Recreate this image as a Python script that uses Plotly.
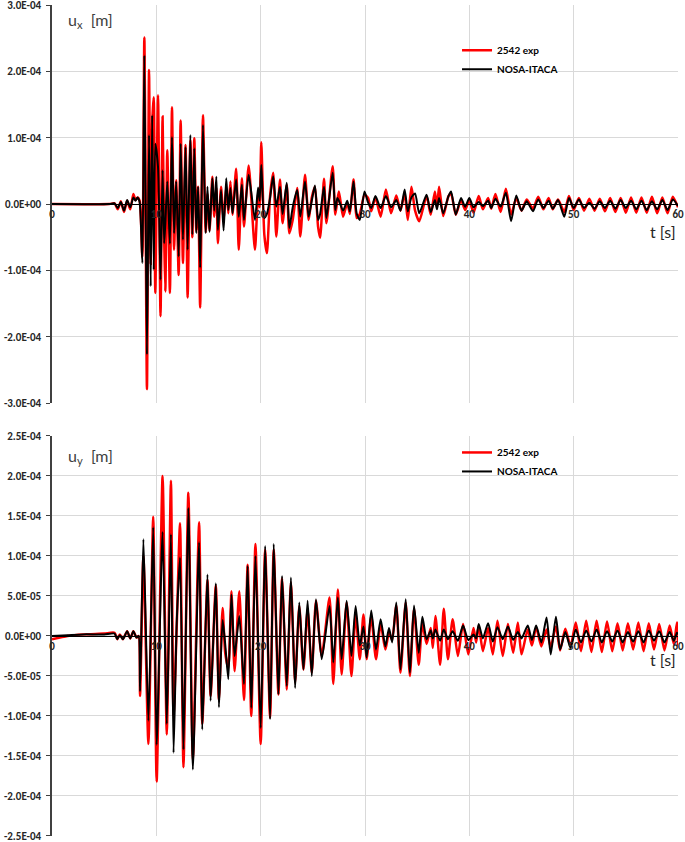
import plotly.graph_objects as go

# displacement values below in units of 1e-5 m
SCALE = 1e-5

# ---------------- u_x ----------------
t_x = [0.0, 5.5, 6.0, 6.3, 6.6, 6.9, 7.2, 7.5, 7.8, 8.0,
       8.2, 8.4, 8.66, 8.85, 9.1, 9.3, 9.46, 9.6, 9.75, 9.9,
       10.16, 10.4, 10.6, 10.75, 10.86, 11.05, 11.3, 11.5, 11.7, 11.9,
       12.14, 12.33, 12.55, 12.8, 13.0, 13.26, 13.45, 13.64, 13.83, 14.0,
       14.2, 14.47, 14.73, 14.9, 15.1, 15.37, 15.55, 15.75, 15.9, 16.2,
       16.45, 16.7, 16.9, 17.1, 17.3, 17.65, 17.9, 18.2, 18.4, 18.85,
       19.45, 19.75, 19.9, 20.06, 20.35, 20.6, 20.9, 21.2, 21.5, 21.85,
       22.1, 22.5, 22.75, 23.07, 23.5, 23.8, 24.25, 24.6, 24.9, 25.2,
       25.5, 25.7, 26.07, 26.3, 26.9, 27.15, 27.35, 27.5, 27.9, 28.3,
       28.55, 28.9, 29.2, 29.5, 29.95, 30.3, 30.6, 31.0, 31.5, 32.0,
       32.5, 33.0, 33.4, 33.8, 34.1, 34.45, 34.8, 35.2, 35.9, 36.3,
       36.7, 36.9, 37.1, 37.5, 38.0, 38.25, 38.7, 39.2, 39.6, 40.0,
       40.4, 40.9, 41.3, 41.8, 42.1, 42.5, 43.0, 43.5, 44.0, 44.5,
       45.0, 45.5, 46.1, 46.6, 47.1, 47.6, 48.0, 48.5, 49.1, 49.55,
       50.0, 50.5, 51.0, 51.5, 52.0, 52.5, 53.0, 53.5, 54.0, 54.5,
       55.0, 55.5, 56.0, 56.5, 57.0, 57.5, 58.0, 58.5, 59.0, 59.5,
       60.0]
ux_exp = [0, 0, 0.1, -0.8, 0.4, -1.2, 0.5, -0.8, 1.5, 0.6,
          1.0, 0.5, -8.0, 25.1, -27.9, 20.2, -9.0, 12.0, 16.1, -13.4,
          16.4, -16.9, 13.2, -5.0, -13.2, 8.1, -13.4, 14.6, -6.9, 3.6,
          -10.7, 12.6, -8.9, 8.9, -14.1, 9.6, -5.0, 9.9, -4.0, 2.6,
          -15.6, 13.4, -4.2, 1.5, -4.0, 4.1, -1.9, 2.5, -5.9, 2.6,
          -2.5, 2.6, -1.4, 3.4, -1.6, 5.3, -6.9, 3.9, -3.4, 5.8,
          -6.9, 1.5, -0.5, 9.3, -4.6, -7.4, 1.2, 4.7, -4.9, 3.7,
          -2.9, 2.9, -4.4, -2.4, 2.4, -4.9, 4.4, -2.4, 1.0, 2.6,
          -3.4, -5.1, 3.8, -2.9, 5.7, -1.6, 0.5, 1.9, -1.9, 0.2,
          -1.5, 3.7, -2.1, -1.5, 1.4, 0.9, -1.1, 1.0, -1.9, 2.2,
          -1.4, 1.3, -1.0, 1.6, -2.4, 2.6, -1.0, -2.6, 1.2, -1.6,
          1.9, -0.5, 2.6, -1.8, 1.2, 1.6, -1.6, 0.6, -0.9, 0.6,
          -1.3, 1.2, -0.8, 0.9, -0.7, 1.5, -1.2, 2.3, -1.6, 0.9,
          -1.0, 0.7, -0.7, 1.1, -0.8, 0.9, -0.8, 0.7, -1.2, 1.2,
          -0.9, 0.9, -1.0, 0.8, -1.0, 0.8, -1.1, 0.9, -1.2, 0.9,
          -1.3, 1.0, -1.3, 1.0, -1.3, 1.1, -1.4, 1.0, -1.4, 1.1,
          -0.5]
ux_nosa = [0, 0, 0.1, -0.6, 0.3, -1.0, 0.6, -0.5, 1.0, 0.5,
           1.0, 0.3, -8.9, 22.4, -22.7, 10.4, -12.4, 13.4, -9.9, 9.1,
           5.6, -11.4, 5.1, -5.9, -3.0, 3.4, -6.0, 10.1, -4.4, 3.4,
           -7.9, 9.1, -5.4, 8.6, -6.9, 10.4, -4.6, 8.4, -4.4, 2.6,
           -9.6, 11.9, -4.4, 2.6, -4.2, 3.9, -1.0, 4.1, -3.9, 2.1,
           -4.0, 3.9, -0.9, 2.4, -1.4, 3.7, -1.9, 2.9, -2.4, 4.4,
           -2.4, 2.5, 0.5, 5.9, -2.1, -1.5, 0.9, 4.2, -0.4, 2.6,
           -1.5, 3.2, -3.6, -0.5, 2.1, -1.9, 3.4, -1.9, 0.5, 2.8,
           -2.4, -1.5, 2.6, -2.1, 4.7, -0.9, 0.9, 0.5, -1.0, 0.5,
           -1.1, 3.4, -1.4, -2.4, 1.9, 0.2, -0.6, 1.2, -0.6, 1.2,
           -0.5, 0.6, -1.0, 2.2, -1.1, 1.0, 1.6, -1.4, 1.4, -1.2,
           0.6, -0.8, 0.9, -1.4, 1.2, 1.9, -1.6, 0.9, -0.4, 0.9,
           -0.5, 0.3, -0.3, 0.5, -0.6, 0.8, -0.4, 1.7, -2.6, 1.3,
           -1.0, 0.4, -1.1, 0.7, -0.6, 0.5, -0.7, 0.6, -1.9, 0.9,
           -0.6, 0.7, -0.6, 0.2, -0.7, 0.4, -0.6, 0.5, -0.7, 0.6,
           -0.6, 0.5, -0.8, 0.5, -0.9, 0.4, -0.8, 0.6, -0.9, 0.7,
           -0.3]

# ---------------- u_y ----------------
t_y = [0.0, 1.5, 3.0, 5.0, 6.0, 6.25, 6.5, 6.8, 7.2, 7.5,
       7.8, 8.1, 8.3, 8.44, 8.76, 9.24, 9.7, 10.03, 10.6, 11.0,
       11.4, 11.65, 11.95, 12.27, 12.6, 13.07, 13.5, 14.1, 14.4, 14.9,
       15.2, 15.7, 16.0, 16.35, 16.6, 16.9, 17.2, 17.5, 17.95, 18.4,
       18.75, 19.1, 19.5, 20.0, 20.43, 20.9, 21.25, 21.7, 22.05, 22.5,
       22.9, 23.3, 23.7, 24.1, 24.5, 24.9, 25.3, 25.85, 26.6, 26.96,
       27.4, 27.76, 28.24, 28.7, 29.1, 29.5, 29.85, 30.16, 30.6, 31.05,
       31.5, 31.95, 32.3, 32.6, 33.0, 33.4, 33.9, 34.3, 34.7, 35.15,
       35.5, 35.9, 36.3, 36.5, 36.75, 37.2, 37.55, 37.95, 38.4, 38.9,
       39.4, 39.9, 40.4, 40.65, 40.9, 41.3, 41.8, 42.25, 42.7, 43.2,
       43.7, 44.2, 44.65, 45.0, 45.6, 46.0, 46.4, 46.9, 47.4, 47.8,
       48.3, 48.7, 49.2, 49.7, 50.2, 50.7, 51.2, 51.7, 52.2, 52.7,
       53.2, 53.7, 54.2, 54.7, 55.2, 55.7, 56.2, 56.7, 57.2, 57.7,
       58.2, 58.7, 59.2, 59.6, 59.9, 60.0]
uy_exp = [-0.4, 0.0, 0.2, 0.3, 0.4, -0.4, 0.2, -0.4, 0.6, -0.3,
          0.6, -0.2, 0.0, -7.5, 10.0, -13.5, 14.9, -18.2, 20.0, -12.3,
          19.4, -10.0, 1.0, 14.1, -16.4, 17.9, -15.5, 14.2, -11.0, 7.0,
          -7.5, 6.3, -8.0, 3.5, -2.1, -4.0, 5.6, -4.4, 5.6, -8.0,
          8.9, -10.0, 11.5, -13.5, 10.8, -10.2, 10.8, -7.3, 7.2, -6.7,
          6.7, -5.8, 3.75, -4.2, 3.3, -4.6, 4.4, -2.5, 4.8, -6.0,
          5.8, -4.8, 4.2, -5.0, 2.7, -2.9, 2.7, -2.9, 2.5, -2.9,
          1.5, -1.7, 0.4, -0.5, 3.8, -4.6, 4.2, -5.0, 3.4, -3.6,
          1.5, -1.0, 1.0, -1.5, 2.5, -3.6, 3.4, -2.9, 2.1, -2.5,
          1.5, -2.3, 1.0, -0.8, 1.3, -1.9, 1.0, -2.3, 1.9, -2.5,
          1.5, -2.1, 1.7, -2.3, 0.8, -1.2, 1.1, -1.3, 0.8, -1.4,
          1.2, -1.8, 0.9, -1.3, 1.7, -1.9, 1.9, -2.0, 1.9, -2.0,
          1.8, -1.9, 1.6, -1.8, 1.6, -1.7, 1.7, -1.9, 1.6, -1.7,
          1.5, -1.8, 1.3, -1.0, 1.7, -1.2]
uy_nosa = [0.0, 0.1, 0.2, 0.2, 0.3, -0.4, 0.1, -0.4, 0.6, -0.3,
           0.6, -0.2, 0.0, -6.9, 12.1, -10.6, 13.6, -13.6, 13.0, -11.0,
           12.7, -14.6, 1.5, 9.8, -14.2, 16.0, -16.7, 11.7, -11.7, 7.7,
           -8.1, 6.6, -8.9, 2.0, -1.0, -5.4, 5.2, -2.5, 2.5, -6.0,
           8.75, -9.0, 10.0, -11.5, 11.25, -10.4, 11.5, -7.3, 7.5, -6.25,
           7.3, -6.5, 4.2, -4.2, 4.4, -5.0, 4.6, -2.9, 3.75, -3.3,
           4.8, -2.9, 4.4, -2.5, 3.75, -1.2, 1.2, -2.7, 3.2, -1.7,
           2.1, -1.3, 1.0, -0.8, 4.2, -4.2, 4.6, -4.6, 3.8, -2.1,
           2.4, -0.4, 0.7, -0.3, 0.8, -0.6, 0.8, -0.4, 0.6, -0.6,
           1.3, -0.5, 0.2, -0.3, 1.5, -0.3, 1.6, -0.7, 1.1, -0.4,
           1.2, -0.5, 0.5, -0.3, 1.3, -0.5, 1.3, -0.8, 2.3, -2.3,
           2.4, -1.7, 0.5, -1.5, 0.8, -0.8, 0.7, -0.7, 0.8, -0.8,
           0.6, -0.7, 0.7, -0.8, 0.5, -0.7, 0.6, -0.8, 0.7, -0.6,
           0.6, -0.8, 0.5, -0.6, 0.4, 0.2]

x_ticks = [0, 10, 20, 30, 40, 50, 60]
ux_ticks = [-3e-4, -2e-4, -1e-4, 0, 1e-4, 2e-4, 3e-4]
ux_labels = ["-3.0E-04", "-2.0E-04", "-1.0E-04", "0.0E+00", "1.0E-04", "2.0E-04", "3.0E-04"]
uy_ticks = [-2.5e-4, -2e-4, -1.5e-4, -1e-4, -5e-5, 0, 5e-5, 1e-4, 1.5e-4, 2e-4, 2.5e-4]
uy_labels = ["-2.5E-04", "-2.0E-04", "-1.5E-04", "-1.0E-04", "-5.0E-05", "0.0E+00",
             "5.0E-05", "1.0E-04", "1.5E-04", "2.0E-04", "2.5E-04"]

FONT = "Lato"
TICKFONT = "Carlito, Liberation Sans Narrow, Lato"
GRID = "#d9d9d9"
ytickfont = dict(family=TICKFONT, size=11, color="#262626", weight="bold")
xtickfont = dict(family=TICKFONT, size=11, color="#262626", weight="bold")


def scaled(vals):
    return [v * SCALE for v in vals]


fig = go.Figure()
spline = dict(shape="spline", smoothing=0.6)

fig.add_trace(go.Scatter(x=t_x, y=scaled(ux_exp), mode="lines", name="2542 exp",
                         line=dict(color="#ff0000", width=2.5, **spline),
                         xaxis="x", yaxis="y", legend="legend"))
fig.add_trace(go.Scatter(x=t_x, y=scaled(ux_nosa), mode="lines", name="NOSA-ITACA",
                         line=dict(color="#000000", width=2, **spline),
                         xaxis="x", yaxis="y", legend="legend"))
fig.add_trace(go.Scatter(x=t_y, y=scaled(uy_exp), mode="lines", name="2542 exp",
                         line=dict(color="#ff0000", width=2.5, **spline),
                         xaxis="x2", yaxis="y2", legend="legend2"))
fig.add_trace(go.Scatter(x=t_y, y=scaled(uy_nosa), mode="lines", name="NOSA-ITACA",
                         line=dict(color="#000000", width=2, **spline),
                         xaxis="x2", yaxis="y2", legend="legend2"))


def xaxis(pos):
    return dict(domain=[0, 1], range=[0, 60], anchor="free", position=pos,
                tickvals=x_ticks, showgrid=True, gridcolor=GRID, gridwidth=1,
                showline=True, linecolor="black", linewidth=1, ticks="",
                zeroline=False, tickfont=xtickfont, automargin=False,
                ticklabeloverflow="allow")


def yaxis(dom, rng, vals, labels, anchor):
    return dict(domain=dom, range=rng, anchor=anchor, tickvals=vals, ticktext=labels,
                showgrid=True, gridcolor=GRID, gridwidth=1, showline=True,
                linecolor="#404040", linewidth=1.5, ticks="outside", ticklen=4,
                tickcolor="#404040", zeroline=False, tickfont=ytickfont,
                automargin=False, ticklabeloverflow="allow", ticklabelstandoff=3)


legend_style = dict(x=0.647, xanchor="left", yanchor="top", bgcolor="rgba(0,0,0,0)",
                    font=dict(family=FONT, size=10, color="black", weight="bold"),
                    tracegroupgap=0, itemwidth=30)

fig.update_layout(
    width=685, height=842,
    margin=dict(l=52, r=7, t=5, b=6),
    plot_bgcolor="white", paper_bgcolor="white",
    xaxis=xaxis(0.761),
    yaxis=yaxis([0.521, 1], [-3e-4, 3e-4], ux_ticks, ux_labels, "x"),
    xaxis2=xaxis(0.2405),
    yaxis2=yaxis([0, 0.4814], [-2.5e-4, 2.5e-4], uy_ticks, uy_labels, "x2"),
    legend=dict(y=0.963, **legend_style),
    legend2=dict(y=0.479, **legend_style),
    showlegend=True,
    annotations=[
        dict(text="u<sub>x</sub>  [m]", x=0.022, y=0.981, xref="paper", yref="paper",
             xanchor="left", yanchor="middle", showarrow=False,
             font=dict(family=FONT, size=16, color="#404040")),
        dict(text="t [s]", x=0.976, y=0.7275, xref="paper", yref="paper",
             xanchor="center", yanchor="middle", showarrow=False,
             font=dict(family=FONT, size=16, color="#262626")),
        dict(text="u<sub>y</sub>  [m]", x=0.022, y=0.457, xref="paper", yref="paper",
             xanchor="left", yanchor="middle", showarrow=False,
             font=dict(family=FONT, size=16, color="#404040")),
        dict(text="t [s]", x=0.976, y=0.2125, xref="paper", yref="paper",
             xanchor="center", yanchor="middle", showarrow=False,
             font=dict(family=FONT, size=16, color="#262626")),
    ],
)

# page body has a default margin; drop it so the figure sits at the window corner
fig.write_html("out.html", config={"displayModeBar": False},
               post_script="document.body.style.margin='0';")
